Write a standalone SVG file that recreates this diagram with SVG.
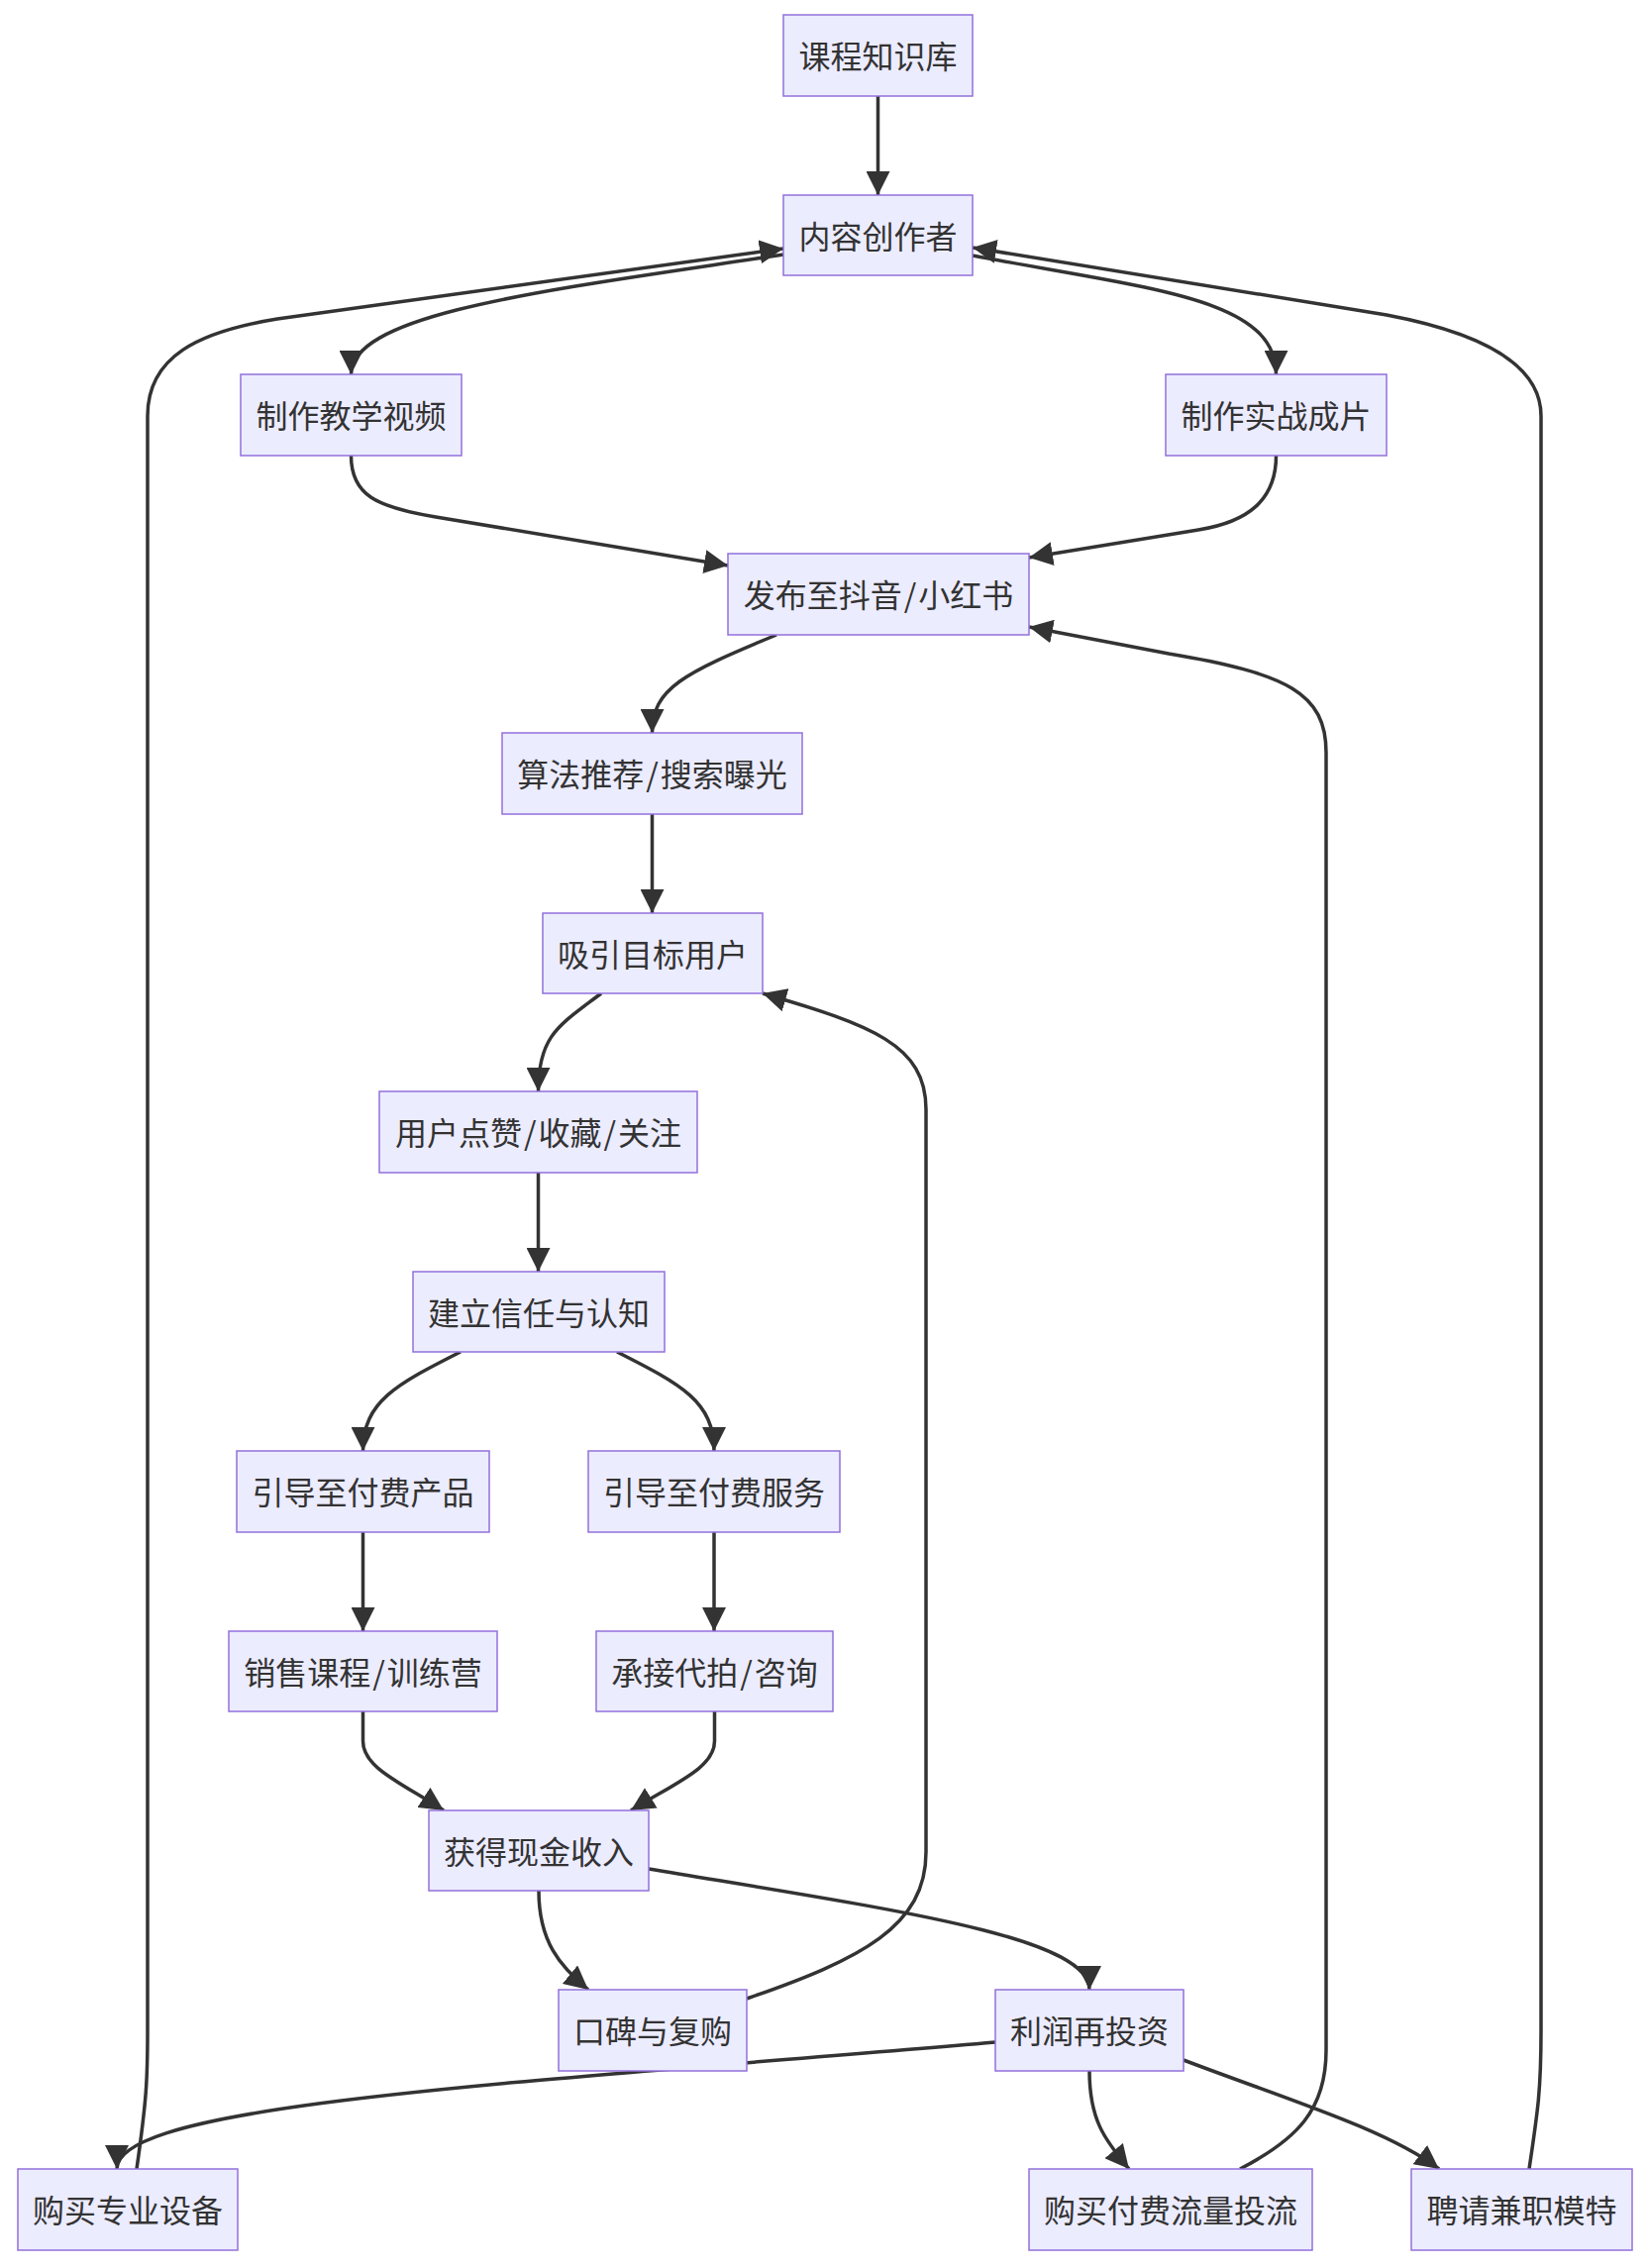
<svg xmlns="http://www.w3.org/2000/svg" width="1664" height="2290" viewBox="0 0 1664 2290">
<style>
.node rect{fill:#ECECFF;stroke:#9370DB;stroke-width:1.5}
.node text{font-family:"Noto Sans CJK SC","Noto Sans",sans-serif;font-size:32px;fill:#333333;text-anchor:middle;dominant-baseline:central}
.sl{letter-spacing:2px}
.edge{fill:none;stroke:#333333;stroke-width:3.5;marker-end:url(#arrow)}
</style>
<defs>
<marker id="arrow" viewBox="0 0 10 10" refX="10" refY="5" markerUnits="userSpaceOnUse" markerWidth="24" markerHeight="24" orient="auto">
<path d="M0,0 L10,5 L0,10 z" fill="#333333"/>
</marker>
</defs>
<rect width="1664" height="2290" fill="#ffffff"/>
<g id="edges">
<path class="edge" d="M886.5,97 L886.5,197"/>
<path class="edge" d="M791,257 C560,292 354.5,315 354.5,378"/>
<path class="edge" d="M982,258 C1160,292 1288.5,300 1288.5,378"/>
<path class="edge" d="M354.5,460 C354.5,500 380,512 440,522 L735,571"/>
<path class="edge" d="M1288.5,460 C1288.5,505 1260,527 1210,535 L1039,563"/>
<path class="edge" d="M784,641 C690,680 658.5,695 658.5,740"/>
<path class="edge" d="M658.5,822 L658.5,922"/>
<path class="edge" d="M607,1003 C565,1035 543.5,1045 543.5,1102"/>
<path class="edge" d="M543.5,1184 L543.5,1284"/>
<path class="edge" d="M465,1365 C400,1398 366.5,1415 366.5,1465"/>
<path class="edge" d="M623,1365 C688,1398 721,1415 721,1465"/>
<path class="edge" d="M366.5,1547 L366.5,1647"/>
<path class="edge" d="M721,1547 L721,1647"/>
<path class="edge" d="M366.5,1728 L366.5,1758 C366.5,1785 405,1800 448,1828"/>
<path class="edge" d="M721.5,1728 L721.5,1758 C721.5,1785 682,1800 637,1828"/>
<path class="edge" d="M544,1909 C544,1960 565,1985 594,2009"/>
<path class="edge" d="M655,1887 C900,1928 1100,1955 1100,2009"/>
<path class="edge" d="M754,2018 C870,1978 935,1945 935,1870 L935,1120 C935,1055 880,1035 770,1003"/>
<path class="edge" d="M1005,2062 C500,2105 118,2125 118,2190"/>
<path class="edge" d="M1100,2091 C1100,2140 1115,2160 1140,2190"/>
<path class="edge" d="M1195,2080 C1300,2120 1400,2150 1453,2190"/>
<path class="edge" d="M138,2190 C148,2120 149,2100 149,2050 L149,420 C149,360 200,335 280,322 L791,251"/>
<path class="edge" d="M1252,2190 C1310,2160 1339,2130 1339,2070 L1339,760 C1339,700 1300,680 1180,660 L1039,633"/>
<path class="edge" d="M1544,2190 C1553,2130 1556,2110 1556,2050 L1556,420 C1556,365 1490,335 1400,318 L982,250"/>
</g>
<g id="node-A" class="node"><rect x="791" y="15" width="191" height="82"/><text x="886.5" y="55">课程知识库</text></g>
<g id="node-B" class="node"><rect x="791" y="197" width="191" height="81"/><text x="886.5" y="236.5">内容创作者</text></g>
<g id="node-C" class="node"><rect x="243" y="378" width="223" height="82"/><text x="354.5" y="418">制作教学视频</text></g>
<g id="node-D" class="node"><rect x="1177" y="378" width="223" height="82"/><text x="1288.5" y="418">制作实战成片</text></g>
<g id="node-E" class="node"><rect x="735" y="559" width="304" height="82"/><text x="887" y="599">发布至抖音<tspan class="sl" dx="2">/</tspan>小红书</text></g>
<g id="node-F" class="node"><rect x="507" y="740" width="303" height="82"/><text x="658.5" y="780">算法推荐<tspan class="sl" dx="2">/</tspan>搜索曝光</text></g>
<g id="node-G" class="node"><rect x="548" y="922" width="222" height="81"/><text x="659" y="961.5">吸引目标用户</text></g>
<g id="node-H" class="node"><rect x="383" y="1102" width="321" height="82"/><text x="543.5" y="1142">用户点赞<tspan class="sl" dx="2">/</tspan>收藏<tspan class="sl" dx="2">/</tspan>关注</text></g>
<g id="node-I" class="node"><rect x="417" y="1284" width="254" height="81"/><text x="544" y="1323.5">建立信任与认知</text></g>
<g id="node-J" class="node"><rect x="239" y="1465" width="255" height="82"/><text x="366.5" y="1505">引导至付费产品</text></g>
<g id="node-K" class="node"><rect x="594" y="1465" width="254" height="82"/><text x="721" y="1505">引导至付费服务</text></g>
<g id="node-L" class="node"><rect x="231" y="1647" width="271" height="81"/><text x="366.5" y="1686.5">销售课程<tspan class="sl" dx="2">/</tspan>训练营</text></g>
<g id="node-M" class="node"><rect x="602" y="1647" width="239" height="81"/><text x="721.5" y="1686.5">承接代拍<tspan class="sl" dx="2">/</tspan>咨询</text></g>
<g id="node-N" class="node"><rect x="433" y="1828" width="222" height="81"/><text x="544" y="1867.5">获得现金收入</text></g>
<g id="node-O" class="node"><rect x="564" y="2009" width="190" height="82"/><text x="659" y="2049">口碑与复购</text></g>
<g id="node-P" class="node"><rect x="1005" y="2009" width="190" height="82"/><text x="1100" y="2049">利润再投资</text></g>
<g id="node-Q" class="node"><rect x="18" y="2190" width="222" height="82"/><text x="129" y="2230">购买专业设备</text></g>
<g id="node-R" class="node"><rect x="1039" y="2190" width="286" height="82"/><text x="1182" y="2230">购买付费流量投流</text></g>
<g id="node-S" class="node"><rect x="1425" y="2190" width="223" height="82"/><text x="1536.5" y="2230">聘请兼职模特</text></g>
</svg>
